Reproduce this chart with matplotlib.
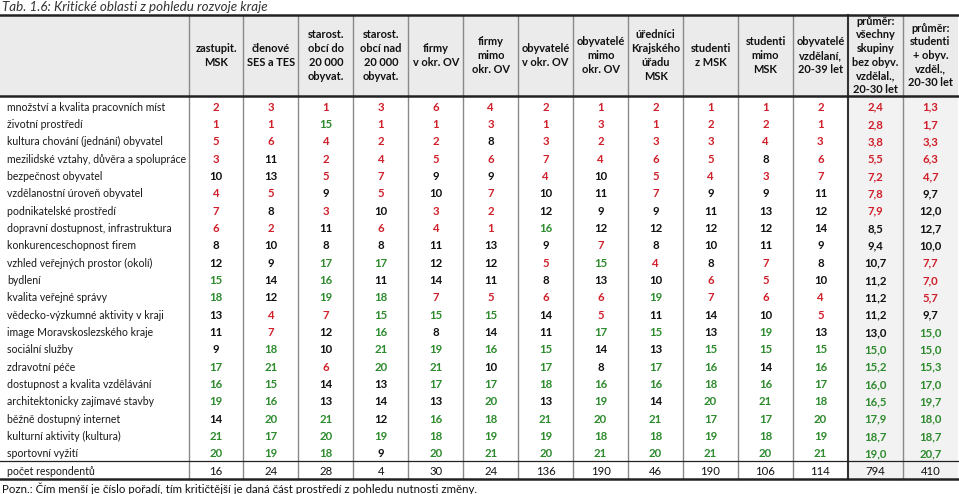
import matplotlib
matplotlib.use("Agg")
import matplotlib.pyplot as plt
from matplotlib.patches import Rectangle

plt.rcParams["font.family"] = ["Lato", "DejaVu Sans"]

title = "Tab. 1.6: Kritické oblasti z pohledu rozvoje kraje"
note = ("Pozn.: Čím menší je číslo pořadí, tím kritičtější je daná část "
        "prostředí z pohledu nutnosti změny.")

columns = [
    "zastupit.\nMSK",
    "členové\nSES a TES",
    "starost.\nobcí do\n20 000\nobyvat.",
    "starost.\nobcí nad\n20 000\nobyvat.",
    "firmy\nv okr. OV",
    "firmy\nmimo\nokr. OV",
    "obyvatelé\nv okr. OV",
    "obyvatelé\nmimo\nokr. OV",
    "úředníci\nKrajského\núřadu\nMSK",
    "studenti\nz MSK",
    "studenti\nmimo\nMSK",
    "obyvatelé\nvzdělaní,\n20-39 let",
    "průměr:\nvšechny\nskupiny\nbez obyv.\nvzdělal.,\n20-30 let",
    "průměr:\nstudenti\n+ obyv.\nvzděl.,\n20-30 let",
]

areas = [
    "množství a kvalita pracovních míst",
    "životní prostředí",
    "kultura chování (jednání) obyvatel",
    "mezilidské vztahy, důvěra a spolupráce",
    "bezpečnost obyvatel",
    "vzdělanostní úroveň obyvatel",
    "podnikatelské prostředí",
    "dopravní dostupnost, infrastruktura",
    "konkurenceschopnost firem",
    "vzhled veřejných prostor (okolí)",
    "bydlení",
    "kvalita veřejné správy",
    "vědecko-výzkumné aktivity v kraji",
    "image Moravskoslezského kraje",
    "sociální služby",
    "zdravotní péče",
    "dostupnost a kvalita vzdělávání",
    "architektonicky zajímavé stavby",
    "běžně dostupný internet",
    "kulturní aktivity (kultura)",
    "sportovní vyžití",
]

# pořadí podle skupin respondentů (12 skupin)
ranks = [
    [2, 3, 1, 3, 6, 4, 2, 1, 2, 1, 1, 2],
    [1, 1, 15, 1, 1, 3, 1, 3, 1, 2, 2, 1],
    [5, 6, 4, 2, 2, 8, 3, 2, 3, 3, 4, 3],
    [3, 11, 2, 4, 5, 6, 7, 4, 6, 5, 8, 6],
    [10, 13, 5, 7, 9, 9, 4, 10, 5, 4, 3, 7],
    [4, 5, 9, 5, 10, 7, 10, 11, 7, 9, 9, 11],
    [7, 8, 3, 10, 3, 2, 12, 9, 9, 11, 13, 12],
    [6, 2, 11, 6, 4, 1, 16, 12, 12, 12, 12, 14],
    [8, 10, 8, 8, 11, 13, 9, 7, 8, 10, 11, 9],
    [12, 9, 17, 17, 12, 12, 5, 15, 4, 8, 7, 8],
    [15, 14, 16, 11, 14, 11, 8, 13, 10, 6, 5, 10],
    [18, 12, 19, 18, 7, 5, 6, 6, 19, 7, 6, 4],
    [13, 4, 7, 15, 15, 15, 14, 5, 11, 14, 10, 5],
    [11, 7, 12, 16, 8, 14, 11, 17, 15, 13, 19, 13],
    [9, 18, 10, 21, 19, 16, 15, 14, 13, 15, 15, 15],
    [17, 21, 6, 20, 21, 10, 17, 8, 17, 16, 14, 16],
    [16, 15, 14, 13, 17, 17, 18, 16, 16, 18, 16, 17],
    [19, 16, 13, 14, 13, 20, 13, 19, 14, 20, 21, 18],
    [14, 20, 21, 12, 16, 18, 21, 20, 21, 17, 17, 20],
    [21, 17, 20, 19, 18, 19, 19, 18, 18, 19, 18, 19],
    [20, 19, 18, 9, 20, 21, 20, 21, 20, 21, 20, 21],
]
avg_all = [2.4, 2.8, 3.8, 5.5, 7.2, 7.8, 7.9, 8.5, 9.4, 10.7, 11.2, 11.2,
           11.2, 13.0, 15.0, 15.2, 16.0, 16.5, 17.9, 18.7, 19.0]
avg_students = [1.3, 1.7, 3.3, 6.3, 4.7, 9.7, 12.0, 12.7, 10.0, 7.7, 7.0,
                5.7, 9.7, 15.0, 15.0, 15.3, 17.0, 19.7, 18.0, 18.7, 20.7]
respondents = [16, 24, 28, 4, 30, 24, 136, 190, 46, 190, 106, 114, 794, 410]

RED = "#d01f2a"
GREEN = "#2d8a2d"
BLACK = "#111111"


def rank_color(v):
    if v < 8:
        return RED
    if v >= 15:
        return GREEN
    return BLACK


fig = plt.figure(figsize=(9.59, 4.94), dpi=100)
ax = fig.add_axes([0, 0, 1, 1])
ax.set_xlim(0, 959)
ax.set_ylim(494, 0)
ax.axis("off")

# layout in pixels
x_first, col_w = 188.5, 54.95
head_top, head_bot = 15, 96
y0, row_h = 107.3, 17.32
sep_y, count_y, bottom = 461, 471.7, 479
n_cols = len(columns)
edges = [x_first + i * col_w for i in range(n_cols + 1)]
centers = [x_first + (i + 0.5) * col_w for i in range(n_cols)]

ax.add_patch(Rectangle((0, head_top), edges[-1], head_bot - head_top,
                       color="#ebebeb", lw=0, zorder=0))
ax.add_patch(Rectangle((edges[12], head_bot), edges[-1] - edges[12],
                       bottom - head_bot, color="#f2f2f2", lw=0, zorder=0))

for i, x in enumerate(edges[:-1]):
    if i == 12:
        ax.plot([x, x], [head_top, bottom], color="#333333", lw=1.5, zorder=2)
    else:
        ax.plot([x, x], [head_top, bottom], color="#8a8a8a", lw=1.0, zorder=1)
for y, lw in [(head_top, 1.8), (head_bot, 1.8), (sep_y, 0.9), (bottom, 1.8)]:
    ax.plot([0, edges[-1]], [y, y], color="#222222", lw=lw, zorder=3)

ax.text(2, 7, title, style="italic", fontsize=9.6, color="#333333",
        va="center", ha="left")
ax.text(2, 489, note, fontsize=8.3, color="#111111", va="center", ha="left")

for c, lab in zip(centers, columns):
    ax.text(c, 55.5, lab, ha="center", va="center", fontsize=7.9,
            fontweight="bold", color="#111111", linespacing=1.3)

for r, area in enumerate(areas):
    y = y0 + r * row_h
    ax.text(7, y, area, ha="left", va="center", fontsize=7.6, color="#1a1a1a")
    vals = ranks[r] + [avg_all[r], avg_students[r]]
    for j, v in enumerate(vals):
        txt = f"{v:.1f}".replace(".", ",") if j >= 12 else str(v)
        ax.text(centers[j], y, txt, ha="center", va="center", fontsize=8.2,
                fontweight="bold", color=rank_color(v))

ax.text(7, count_y, "počet respondentů", ha="left", va="center",
        fontsize=7.6, color="#1a1a1a")
for c, n in zip(centers, respondents):
    ax.text(c, count_y, str(n), ha="center", va="center", fontsize=8.2,
            color="#111111")

fig.savefig("out.png", dpi=100)
